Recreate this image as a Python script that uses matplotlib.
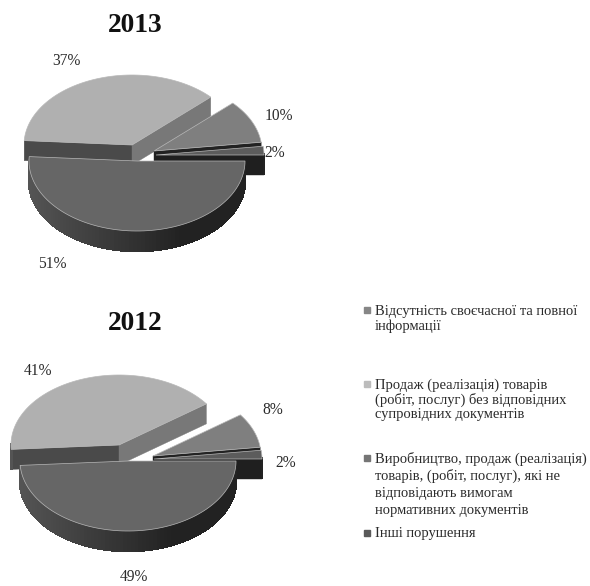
import numpy as np
import matplotlib
matplotlib.use('Agg')
import matplotlib.pyplot as plt

plt.rcParams['font.family'] = ['Liberation Serif', 'DejaVu Serif']

#%% data
values_2013 = [10, 37, 51, 2]
values_2012 = [8, 41, 49, 2]
legend_labels = ['Відсутність своєчасної та повної\nінформації',
                 'Продаж (реалізація) товарів\n(робіт, послуг) без відповідних\nсупровідних документів',
                 'Виробництво, продаж (реалізація)\nтоварів, (робіт, послуг), які не\nвідповідають вимогам\nнормативних документів',
                 'Інші порушення']

#%% style and layout
top_colors = ['#7f7f7f', '#b0b0b0', '#666666', '#5c5c5c']
ccw_face = ['#222222', '#4a4a4a', '#222222', '#222222']
cw_face = ['#222222', '#787878', '#222222', '#1f1f1f']
legend_colors = ['#868686', '#bcbcbc', '#757575', '#5a5a5a']
text_color = '#2a2a2a'

rx = 108
ry = 70
depth = 20

# apex of each slice in pixels, same order as the values
apex_2013 = [(154, 151), (132, 145), (137, 161), (156, 155)]
apex_2012 = [(153, 456), (119, 445), (128, 461), (154, 459)]
label_xy_2013 = [(279, 116), (66, 61), (52, 264), (275, 153)]
label_xy_2012 = [(273, 410), (38, 371), (134, 577), (286, 463)]
legend_y = [311, 385, 459, 534]
line_gap = [15, 14.7, 17.3, 0]

fig = plt.figure(figsize=(5.9, 5.86), dpi=100)
ax = fig.add_axes([0, 0, 1, 1])
ax.set_xlim(0, 590)
ax.set_ylim(586, 0)
ax.axis('off')


def wall_color(x, x0):
    # outer wall goes from mid grey on the left to near black on the right
    t = np.clip((x - x0 + rx) / (1.4 * rx), 0, 1)
    g = 0.33 * (1 - t) + 0.135 * t
    return (g, g, g)


def draw_slice(apex, a_ccw, a_cw, i):
    cx, cy = apex
    t = np.radians(np.linspace(a_ccw, a_cw, 90))
    xs = cx + rx * np.cos(t)
    ys = cy - ry * np.sin(t)

    # radial faces, back ones are skipped
    if np.cos(np.radians(a_ccw)) < 0:
        ax.fill([cx, xs[0], xs[0], cx], [cy, ys[0], ys[0] + depth, cy + depth],
                color=ccw_face[i], lw=0.3)
    if np.cos(np.radians(a_cw)) > 0:
        ax.fill([cx, xs[-1], xs[-1], cx], [cy, ys[-1], ys[-1] + depth, cy + depth],
                color=cw_face[i], lw=0.3)

    # outer wall, only the part facing down
    for k in range(len(t) - 1):
        if np.sin(t[k]) < 0.02 or np.sin(t[k + 1]) < 0.02:
            c = wall_color(xs[k], cx)
            ax.fill([xs[k], xs[k + 1], xs[k + 1], xs[k]],
                    [ys[k], ys[k + 1], ys[k + 1] + depth, ys[k] + depth],
                    color=c, lw=1.2, antialiased=False)

    ax.fill(np.r_[cx, xs], np.r_[cy, ys], facecolor=top_colors[i],
            edgecolor='#b8b8b8', lw=0.5)


def draw_pie(values, apex, label_xy, title, title_y):
    fr = np.array(values) / sum(values)
    # big slice goes clockwise from 0, the others stack counter clockwise from 0
    a_ccw = [360 * (fr[0] + fr[3]), 360 * (fr[0] + fr[3] + fr[1]), 0, 360 * fr[3]]
    a_cw = [360 * fr[3], 360 * (fr[0] + fr[3]), -360 * fr[2], 0]

    for i in [1, 0, 3, 2]:
        draw_slice(apex[i], a_ccw[i], a_cw[i], i)

    for v, (x, y) in zip(values, label_xy):
        ax.text(x, y, '%d%%' % v, ha='center', va='center', fontsize=11.2, color=text_color)
    ax.text(135, title_y, title, ha='center', va='center', fontsize=19.8,
            fontweight='bold', color='#111111')


draw_pie(values_2013, apex_2013, label_xy_2013, '2013', 26)
draw_pie(values_2012, apex_2012, label_xy_2012, '2012', 324)

#%% legend
for lab, col, y, gap in zip(legend_labels, legend_colors, legend_y, line_gap):
    ax.plot([367], [y - 1], marker='s', ms=4.5, color=col, ls='none')
    for j, line in enumerate(lab.split('\n')):
        ax.text(375, y + j * gap, line, ha='left', va='center', fontsize=10.45, color=text_color)

fig.savefig('out.png', dpi=100, facecolor='white')
